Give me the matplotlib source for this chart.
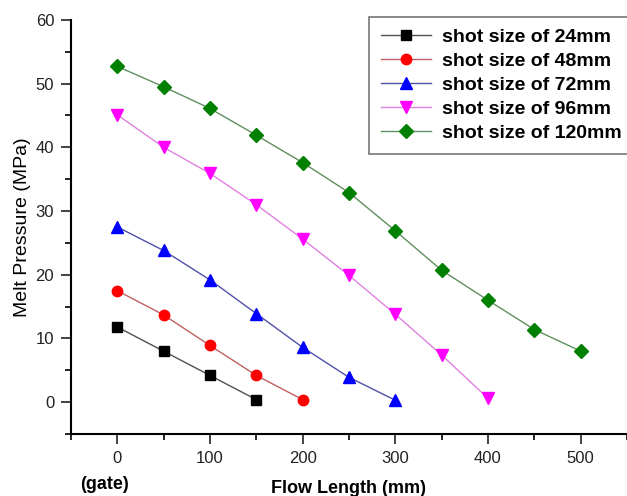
import numpy as np
import matplotlib.pyplot as plt
from matplotlib.ticker import MultipleLocator

plt.rcParams['font.family'] = ['Liberation Sans', 'DejaVu Sans']

x24 = [0, 50, 100, 150]
y24 = [11.8, 8.0, 4.2, 0.4]
x48 = [0, 50, 100, 150, 200]
y48 = [17.5, 13.7, 8.9, 4.2, 0.4]
x72 = [0, 50, 100, 150, 200, 250, 300]
y72 = [27.5, 23.8, 19.2, 13.9, 8.6, 3.9, 0.3]
x96 = [0, 50, 100, 150, 200, 250, 300, 350, 400]
y96 = [45.1, 40.0, 35.9, 31.0, 25.6, 19.9, 13.8, 7.4, 0.6]
x120 = [0, 50, 100, 150, 200, 250, 300, 350, 400, 450, 500]
y120 = [52.7, 49.5, 46.1, 41.9, 37.6, 32.9, 26.9, 20.7, 16.0, 11.4, 8.0]
labels = ["shot size of 24mm", "shot size of 48mm", "shot size of 72mm",
          "shot size of 96mm", "shot size of 120mm"]

fig = plt.figure(figsize=(6.27, 4.96), dpi=100)
ax = fig.add_axes([0.113, 0.125, 0.887, 0.835])

# (line colour, marker colour, marker, size)
series = [
    (x24, y24, "#505050", "black", "s", 6.5),
    (x48, y48, "#c06060", "red", "o", 7.5),
    (x72, y72, "#5050a8", "blue", "^", 8),
    (x96, y96, "#e080e0", "magenta", "v", 8),
    (x120, y120, "#5f8f5f", "green", "D", 7),
]
for (xs, ys, lc, mc, m, ms), lab in zip(series, labels):
    ax.plot(xs, ys, color=lc, lw=1, marker=m, markersize=ms,
            markerfacecolor=mc, markeredgecolor=mc, label=lab)

ax.set_xlim(-50, 550)
ax.set_ylim(-5, 60)
ax.xaxis.set_major_locator(MultipleLocator(100))
ax.xaxis.set_minor_locator(MultipleLocator(50))
ax.yaxis.set_major_locator(MultipleLocator(10))
ax.yaxis.set_minor_locator(MultipleLocator(5))
ax.set_xticks([0, 100, 200, 300, 400, 500])
ax.tick_params(which='major', direction='out', length=7, width=1.2, labelsize=12,
               colors='#222222', pad=5)
ax.tick_params(which='minor', direction='out', length=4, width=1.2)
ax.tick_params(axis='x', which='major', pad=5)
ax.spines['top'].set_visible(False)
ax.spines['right'].set_visible(False)
ax.spines['left'].set_linewidth(1.5)
ax.spines['bottom'].set_linewidth(1.5)

ax.set_ylabel("Melt Pressure (MPa)", fontsize=14, labelpad=3)
ax.set_xlabel("Flow Length (mm)", fontsize=13, fontweight='bold', labelpad=10)
fig.text(0.128, 0.015, "(gate)", fontsize=13, fontweight='bold')

leg = fig.legend(loc='upper left', bbox_to_anchor=(0.5885, 0.966), fancybox=False,
                 edgecolor='#555555', prop={'size': 14, 'weight': 'bold'},
                 handlelength=2.6, handletextpad=0.55, labelspacing=0.33,
                 borderpad=0.6, borderaxespad=0)
leg.get_frame().set_linewidth(1.2)

fig.savefig("out.png", dpi=100)
